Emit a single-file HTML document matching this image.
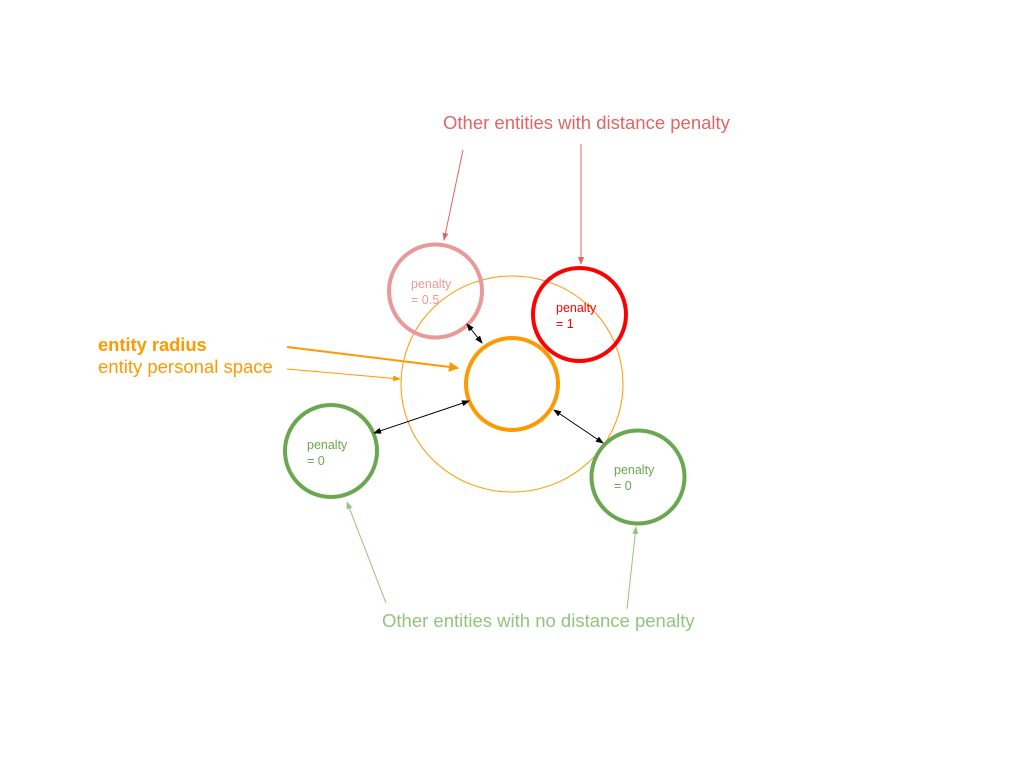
<!DOCTYPE html>
<html><head><meta charset="utf-8"><style>body{margin:0;background:#fff}svg{display:block}</style></head>
<body>
<svg width="1024" height="768" viewBox="0 0 1024 768" xmlns="http://www.w3.org/2000/svg" font-family="Liberation Sans, Arial, sans-serif">
<defs>
<marker id="mo" markerWidth="10" markerHeight="10" refX="9" refY="5" orient="auto" markerUnits="userSpaceOnUse"><path d="M0,0 L10,5 L0,10 z" fill="#ff9900"/></marker>
<marker id="mos" markerWidth="8" markerHeight="8" refX="7" refY="4" orient="auto" markerUnits="userSpaceOnUse"><path d="M0,1 L8,4 L0,7 z" fill="#ff9900"/></marker>
<marker id="mr" markerWidth="8" markerHeight="8" refX="7" refY="4" orient="auto" markerUnits="userSpaceOnUse"><path d="M0,1 L8,4 L0,7 z" fill="#e06666"/></marker>
<marker id="mg" markerWidth="8" markerHeight="8" refX="7" refY="4" orient="auto" markerUnits="userSpaceOnUse"><path d="M0,1 L8,4 L0,7 z" fill="#93c47d"/></marker>
<marker id="mk" markerWidth="8" markerHeight="8" refX="7" refY="4" orient="auto-start-reverse" markerUnits="userSpaceOnUse"><path d="M0,1 L8,4 L0,7 z" fill="#000"/></marker>
</defs>
<text x="443" y="129" font-size="18.5" fill="#e06666">Other entities with distance penalty</text>
<text x="382" y="627" font-size="18.5" fill="#93c47d">Other entities with no distance penalty</text>
<text x="98" y="351" font-size="18.3" font-weight="bold" fill="#ff9900">entity radius</text>
<text x="98" y="373" font-size="18.5" fill="#ff9900">entity personal space</text>

<ellipse cx="512" cy="384" rx="111" ry="108" fill="none" stroke="#ff9900" stroke-width="1"/>
<circle cx="512" cy="384" r="46" fill="none" stroke="#ff9900" stroke-width="4"/>
<circle cx="435.5" cy="291" r="46.5" fill="none" stroke="#ea9999" stroke-width="4"/>
<circle cx="579.5" cy="314.5" r="46.5" fill="none" stroke="#ff0000" stroke-width="4"/>
<circle cx="331" cy="451" r="46" fill="none" stroke="#6aa84f" stroke-width="4"/>
<circle cx="638" cy="477" r="46.5" fill="none" stroke="#6aa84f" stroke-width="4"/>

<g font-size="12.5">
<text x="411" y="288" fill="#ea9999">penalty</text><text x="411" y="304" fill="#ea9999">= 0.5</text>
<text x="556" y="312" fill="#ff0000">penalty</text><text x="556" y="328" fill="#ff0000">= 1</text>
<text x="307" y="449" fill="#6aa84f">penalty</text><text x="307" y="465" fill="#6aa84f">= 0</text>
<text x="614" y="474" fill="#6aa84f">penalty</text><text x="614" y="490" fill="#6aa84f">= 0</text>
</g>

<line x1="287" y1="347" x2="458" y2="368" stroke="#ff9900" stroke-width="2" marker-end="url(#mo)"/>
<line x1="287" y1="369" x2="400" y2="379" stroke="#ff9900" stroke-width="1" marker-end="url(#mos)"/>
<line x1="467" y1="324" x2="482" y2="343" stroke="#000" stroke-width="1" marker-start="url(#mk)" marker-end="url(#mk)"/>
<line x1="374" y1="433" x2="469" y2="401" stroke="#000" stroke-width="1" marker-start="url(#mk)" marker-end="url(#mk)"/>
<line x1="554" y1="410" x2="603" y2="443" stroke="#000" stroke-width="1" marker-start="url(#mk)" marker-end="url(#mk)"/>
<line x1="463" y1="150" x2="444" y2="240" stroke="#e06666" stroke-width="1" marker-end="url(#mr)"/>
<line x1="581" y1="144" x2="581" y2="264" stroke="#e06666" stroke-width="1" marker-end="url(#mr)"/>
<line x1="386" y1="603" x2="347" y2="502" stroke="#93c47d" stroke-width="1" marker-end="url(#mg)"/>
<line x1="627" y1="609" x2="636" y2="527" stroke="#93c47d" stroke-width="1" marker-end="url(#mg)"/>
</svg>
</body></html>
